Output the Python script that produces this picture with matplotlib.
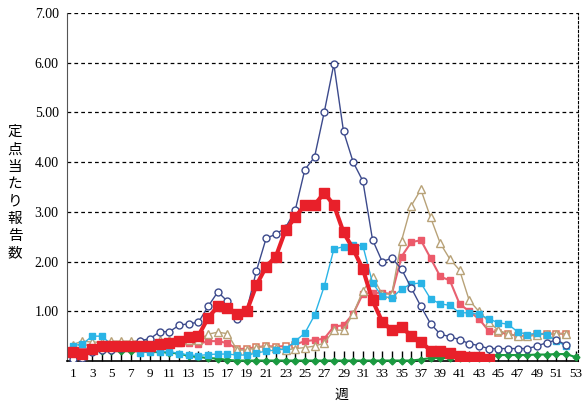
import matplotlib
matplotlib.use("Agg")
import matplotlib.pyplot as plt

plt.rcParams['font.family'] = ['Liberation Serif', 'Noto Sans CJK JP']

weeks52 = list(range(1, 53))
weeks53 = list(range(1, 54))
weeks44 = list(range(1, 45))

navy = [0.05, 0.07, 0.19, 0.23, 0.23, 0.27, 0.29, 0.41, 0.45, 0.59,
        0.59, 0.72, 0.75, 0.78, 1.10, 1.39, 1.20, 0.85, 1.03, 1.82,
        2.47, 2.55, 2.68, 3.03, 3.85, 4.10, 5.00, 5.97, 4.62, 4.00,
        3.62, 2.44, 2.00, 2.07, 1.85, 1.47, 1.10, 0.75, 0.54, 0.49,
        0.43, 0.35, 0.31, 0.25, 0.25, 0.25, 0.25, 0.25, 0.30, 0.37,
        0.42, 0.33]

red = [0.19, 0.15, 0.25, 0.30, 0.30, 0.30, 0.30, 0.30, 0.30, 0.34,
       0.36, 0.40, 0.48, 0.51, 0.87, 1.10, 1.07, 0.95, 1.01, 1.53,
       1.90, 2.10, 2.63, 2.89, 3.14, 3.14, 3.38, 3.14, 2.59, 2.25,
       1.85, 1.22, 0.79, 0.62, 0.69, 0.50, 0.39, 0.21, 0.21, 0.17,
       0.11, 0.09, 0.08, 0.05]

cyan = [0.31, 0.34, 0.50, 0.50, 0.33, 0.30, 0.28, 0.16, 0.19, 0.19,
        0.19, 0.15, 0.12, 0.11, 0.13, 0.14, 0.14, 0.12, 0.12, 0.16,
        0.20, 0.22, 0.24, 0.40, 0.56, 0.92, 1.50, 2.25, 2.30, 2.33,
        2.32, 1.57, 1.30, 1.27, 1.45, 1.55, 1.57, 1.25, 1.15, 1.12,
        0.97, 0.97, 0.94, 0.85, 0.77, 0.74, 0.59, 0.53, 0.56, 0.53,
        0.41, 0.30]

tan = [0.33, 0.40, 0.38, 0.38, 0.40, 0.40, 0.40, 0.40, 0.42, 0.42,
       0.42, 0.42, 0.42, 0.42, 0.54, 0.58, 0.55, 0.22, 0.22, 0.27,
       0.30, 0.27, 0.22, 0.25, 0.27, 0.30, 0.36, 0.62, 0.62, 0.95,
       1.41, 1.69, 1.35, 1.35, 2.42, 3.12, 3.45, 2.89, 2.37, 2.05,
       1.83, 1.22, 1.00, 0.79, 0.62, 0.55, 0.50, 0.50, 0.52, 0.55,
       0.55, 0.55]

pink = [0.22, 0.22, 0.28, 0.30, 0.30, 0.30, 0.30, 0.30, 0.32, 0.33,
        0.35, 0.36, 0.37, 0.34, 0.40, 0.40, 0.36, 0.24, 0.25, 0.28,
        0.30, 0.29, 0.30, 0.33, 0.40, 0.42, 0.45, 0.69, 0.72, 0.95,
        1.35, 1.37, 1.37, 1.35, 2.10, 2.39, 2.43, 2.07, 1.70, 1.62,
        1.15, 1.00, 0.85, 0.61, 0.57, 0.55, 0.50, 0.50, 0.54, 0.55,
        0.55, 0.55]
pink_open_weeks = [18, 19, 20, 21, 22, 23, 24, 45, 46, 47, 48, 49, 50, 51, 52]

green = [0.18, 0.18, 0.20, 0.20, 0.20, 0.20, 0.20, 0.20, 0.18, 0.18,
         0.17, 0.15, 0.10, 0.08, 0.06, 0.05, 0.02, 0.01, 0.01, 0.01,
         0.01, 0.01, 0.01, 0.01, 0.01, 0.01, 0.01, 0.01, 0.01, 0.01,
         0.01, 0.01, 0.01, 0.01, 0.01, 0.01, 0.03, 0.06, 0.06, 0.06,
         0.06, 0.06, 0.06, 0.06, 0.12, 0.12, 0.12, 0.12, 0.13, 0.13,
         0.14, 0.14, 0.08]

ytick_vals = [1, 2, 3, 4, 5, 6, 7]
xtick_labels = list(range(1, 54, 2))

fig = plt.figure(figsize=(5.82, 4.03), dpi=100)
ax = fig.add_axes([0.1151, 0.1042, 0.878, 0.8635])

ax.plot(weeks53, green, color='#1a9a40', lw=1.5, marker='D', ms=3.5,
        mfc='#1a9a40', mec='#1a9a40', clip_on=False, zorder=3)

# pink series: filled squares except where the markers show hollow
open_idx = [w - 1 for w in pink_open_weeks]
filled_idx = [i for i in range(len(pink)) if i not in open_idx]
ax.plot(weeks52, pink, color='#e86070', lw=1.5, marker='s', ms=5,
        mfc='#ec5a6a', mec='#ec5a6a', markevery=filled_idx, zorder=4)
ax.plot(weeks52, pink, ls='none', marker='s', ms=5, mfc='white',
        mec='#d8785a', mew=1.1, markevery=open_idx, zorder=4)

ax.plot(weeks52, tan, color='#b8a278', lw=1, marker='^', ms=5.5,
        mfc='white', mec='#b8a278', zorder=5)
ax.plot(weeks52, cyan, color='#2ab4e6', lw=1, marker='s', ms=5,
        mfc='#2ab4e6', mec='#2ab4e6', zorder=6)
ax.plot(weeks52, navy, color='#3c4a8c', lw=1, marker='o', ms=5,
        mfc='white', mec='#3c4a8c', mew=1, zorder=7)
ax.plot(weeks44, red, color='#e8202a', lw=3, marker='s', ms=7.5,
        mfc='#e8202a', mec='#e8202a', zorder=8)

ax.set_xlim(0.4, 53.25)
ax.set_ylim(0, 7)

ax.set_yticks(ytick_vals)
ax.set_yticklabels(['%.2f' % v for v in ytick_vals], fontsize=10)
ax.tick_params(axis='y', length=0, pad=6)

ax.set_xticks(range(1, 54))
ax.set_xticklabels([str(w) if w in xtick_labels else '' for w in range(1, 54)],
                   fontsize=9.5)
ax.tick_params(axis='x', direction='in', length=7, width=1, color='black', pad=5)

for v in ytick_vals:
    ax.axhline(v, color='black', lw=0.9, ls=(0, (3, 2.5)), zorder=1)

ax.spines['top'].set_visible(False)
ax.spines['right'].set_linestyle((0, (2, 2)))
ax.spines['right'].set_linewidth(0.8)
ax.spines['left'].set_color('#555555')
ax.spines['bottom'].set_color('black')
ax.spines['bottom'].set_linewidth(1.2)

fig.text(0.026, 0.522, '\n'.join('定点当たり報告数'), ha='center', va='center',
         fontsize=10.5, linespacing=1.3, family=['Noto Sans CJK JP'])
fig.text(0.586, 0.02, '週', ha='center', va='center', fontsize=10,
         family=['Noto Sans CJK JP'])

fig.savefig('out.png', dpi=100)
